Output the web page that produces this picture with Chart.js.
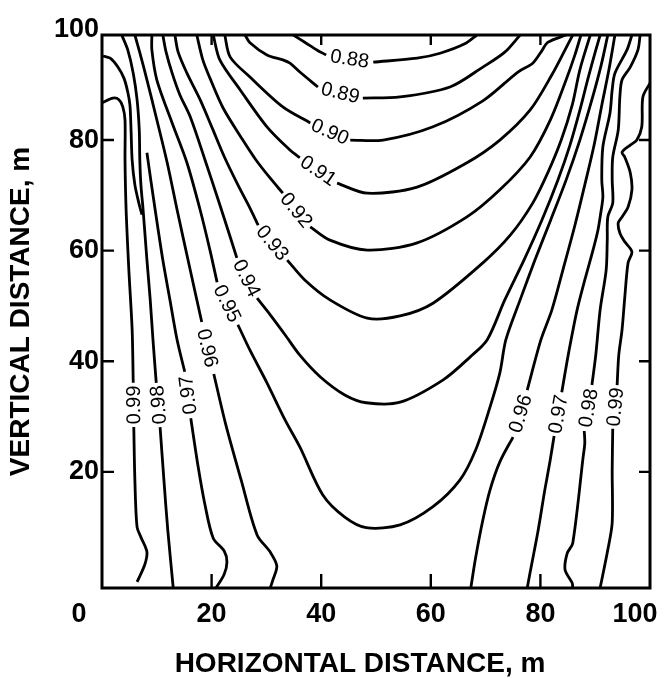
<!DOCTYPE html>
<html>
<head>
<meta charset="utf-8">
<script src="https://cdn.jsdelivr.net/npm/chart.js@4.4.1/dist/chart.umd.min.js"></script>
<style>
  html, body { margin: 0; padding: 0; background: #fff; overflow: hidden; }
  canvas { display: block; }
</style>
</head>
<body>
<canvas id="chart" width="666" height="678"></canvas>
<script>
// Axis ticks (metres)
const xTicks = [0, 20, 40, 60, 80, 100];
const yTicks = [0, 20, 40, 60, 80, 100];
const xTitle = 'HORIZONTAL DISTANCE, m';
const yTitle = 'VERTICAL DISTANCE, m';

// Contour lines as [horizontal m, vertical m]; null marks the break where the level label sits.
const c088 = [[34.9,99.0],[37.0,97.7],[39.2,96.3],[40.9,95.4],null,[49.5,94.1],[57.5,94.8],[61.7,95.7],[66.2,97.4],[68.4,99.0]];
const c089 = [[26.1,99.0],[27.0,97.6],[30.1,95.4],[33.0,94.5],[34.3,93.9],[36.1,92.3],[39.4,89.6],null,[47.6,87.6],[54.4,87.8],[63.5,89.6],[69.5,93.2],[73.5,95.9],[76.3,99.0]];
const c090 = [[22.4,99.0],[23.4,95.0],[27.0,91.4],[33.0,86.0],[38.0,83.1],null,[45.3,80.0],[51.3,80.0],[60.4,82.4],[69.5,87.1],[75.9,92.3],[78.6,93.9],[80.1,95.9],[81.4,97.7],[84.7,99.0]];
const c091 = [[20.3,99.0],[21.5,94.5],[25.2,89.1],[30.1,82.4],[34.3,78.2],[36.1,76.8],null,[42.9,72.2],[48.4,70.4],[57.5,71.5],[66.6,75.9],[72.6,80.0],[78.1,85.4],[82.1,91.8],[84.5,96.3],[85.9,99.0]];
const c092 = [[17.3,99.0],[18.4,94.5],[19.7,91.2],[22.1,85.8],[25.7,80.0],[28.1,76.4],[30.7,73.1],[33.0,70.4],null,[38.0,64.3],[41.6,61.9],[48.4,60.1],[57.5,61.4],[66.6,66.1],[72.6,71.0],[78.1,76.9],[81.8,83.6],[84.7,90.9],[86.3,95.4],[87.4,99.0]];
const c093 = [[13.3,99.0],[13.9,95.9],[15.5,92.1],[17.9,87.3],[20.1,82.2],[22.4,76.8],[24.8,71.9],[27.0,67.7],[28.5,64.6],null,[33.8,58.3],[37.0,54.7],[41.6,51.1],[48.4,47.8],[54.4,48.2],[60.4,50.5],[69.5,57.8],[74.5,62.8],[78.6,68.6],[81.4,74.2],[83.8,80.0],[85.8,86.3],[87.2,92.7],[89.1,99.0]];
const c094 = [[11.1,99.0],[11.7,95.9],[12.8,92.1],[14.2,88.2],[16.1,84.2],[18.8,76.4],[21.2,69.2],[23.0,63.7],[24.6,58.7],null,[28.3,51.4],[30.7,48.4],[33.4,44.8],[36.1,41.1],[39.8,37.2],[44.3,33.9],[48.2,32.5],[54.4,32.6],[62.2,36.6],[67.2,40.8],[70.3,43.9],[73.5,51.1],[77.0,58.3],[80.3,65.6],[83.2,72.8],[85.4,79.1],[87.2,85.4],[88.7,91.2],[90.0,95.9],[90.9,99.0]];
const c095 = [[9.1,99.0],[9.1,96.3],[10.0,90.9],[12.8,83.1],[15.5,75.9],[17.9,67.4],[19.7,60.1],[21.0,54.3],null,[24.8,46.6],[27.0,42.0],[30.1,36.1],[33.4,29.4],[36.1,24.5],[40.3,15.8],[44.3,11.8],[48.2,9.9],[54.4,10.4],[60.4,13.7],[65.3,18.5],[68.2,24.0],[70.8,31.7],[72.6,37.9],[73.7,43.9],[76.3,51.1],[79.0,58.3],[81.9,65.6],[84.7,72.8],[87.2,80.0],[89.4,87.3],[91.1,93.6],[92.3,99.0]];
const c096West = [[6.0,99.0],[6.9,95.8],[8.2,90.9],[9.7,84.9],[11.9,75.9],[13.7,67.4],[16.1,56.5],[18.2,47.1],null,[20.4,37.7],[22.6,28.5],[25.4,18.5],[28.3,8.6],[30.7,5.5],[31.9,3.0],[31.2,0.5],[30.7,-1.0]];
const c096East = [[67.3,-1.0],[68.2,4.6],[69.5,11.3],[70.8,16.7],[72.6,21.8],[75.0,26.3],null,[77.6,34.8],[80.1,43.9],[82.1,49.3],[84.1,56.5],[86.3,64.6],[88.1,71.9],[89.8,79.1],[91.2,86.3],[92.5,92.7],[93.6,99.0]];
const c097West = [[20.8,-1.0],[22.3,1.5],[22.8,3.7],[22.3,5.7],[20.3,8.0],[18.8,14.0],[17.5,21.2],[16.2,29.7],null,[15.1,38.1],[13.7,43.9],[12.4,51.1],[11.1,58.3],[9.7,67.4],[8.9,72.8],[8.2,77.7]];
const c097East = [[77.6,-1.0],[78.1,1.7],[79.6,9.5],[80.8,16.7],[81.8,22.2],[82.5,26.5],null,[83.9,34.4],[84.9,40.2],[85.6,43.9],[86.7,49.3],[88.1,54.7],[89.6,60.1],[90.5,63.7],[90.9,66.1],[91.4,69.7],[91.2,72.8],[91.4,78.8],[92.7,84.9],[93.1,89.1],[93.6,92.1],[95.8,96.3],[96.7,99.0]];
const c098West = [[13.0,-1.0],[12.0,9.5],[11.3,18.5],[10.6,28.1],null,[9.9,36.1],[9.3,43.9],[8.8,51.1],[8.2,58.3],[7.5,67.4],[7.1,71.9],[6.9,76.4],[6.8,81.8],[6.4,87.3],[5.7,92.1],[4.7,96.3],[3.6,99.0]];
const c098East = [[85.9,-1.0],[85.8,-0.1],[84.5,2.3],[84.9,5.3],[85.9,7.1],[87.8,22.7],[88.1,25.2],[88.0,27.4],null,[89.4,35.7],[90.1,41.1],[90.9,49.3],[92.0,56.5],[92.2,61.9],[92.3,66.1],[93.2,68.6],[93.1,72.8],[93.2,76.9],[94.2,81.8],[94.5,87.8],[94.9,90.9],[96.4,93.2],[97.8,96.3],[98.2,99.0]];
const c099West = [[6.4,0.1],[7.8,3.2],[8.2,5.5],[7.1,8.2],[6.4,10.0],[6.0,18.5],[5.8,28.1],null,[5.7,36.1],[5.5,45.7],[4.9,56.5],[4.4,67.4],[4.2,76.4],[4.2,83.6],[3.8,86.0],[3.1,87.3],[2.0,87.6],[0.1,86.8]];
const c099East = [[90.9,-1.0],[92.3,5.9],[93.1,10.8],[93.1,20.3],[93.2,27.8],null,[94.0,35.7],[94.3,41.1],[94.9,45.7],[95.4,51.6],[96.0,57.8],[96.7,59.8],[95.4,61.6],[94.5,63.2],[94.2,65.0],[94.9,66.1],[96.0,67.9],[96.7,71.0],[96.4,74.1],[95.4,76.9],[94.9,77.8],[96.4,79.1],[97.6,80.0],[98.5,82.4],[98.7,87.8],[100.0,90.3]];
const wallSpur = [[0.2,95.2],[1.5,94.8],[2.9,93.2],[4.0,91.2],[4.7,88.7],[5.1,86.3],[5.3,81.8],[5.5,76.4],[6.0,71.9],[6.8,68.3],[7.3,66.5]];

// Level printed in each line's break ('' = unlabelled)
const lineLevels = ['0.88','0.89','0.90','0.91','0.92','0.93','0.94','0.95','0.96','0.96','0.97','0.97','0.98','0.98','0.99','0.99',''];
const lineData = [c088,c089,c090,c091,c092,c093,c094,c095,c096West,c096East,c097West,c097East,c098West,c098East,c099West,c099East,wallSpur];

const FONT = '"Liberation Sans", Arial, Helvetica, sans-serif';
const INK = '#000';
const TICK_LEN = 12;
const xLabelNudge = { 0: -23, 100: -15 };
const X_TITLE_SHIFT = -16;

const datasets = lineData.map((pts, i) => ({
  label: lineLevels[i],
  data: pts.map(p => p ? { x: p[0], y: p[1] } : { x: null, y: null }),
  showLine: true,
  spanGaps: false,
  borderColor: INK,
  borderWidth: 2.8,
  pointRadius: 0,
  pointHoverRadius: 0,
  tension: 0.3,
  fill: false
}));

// Level labels written along each line, inside its break
const levelLabels = {
  id: 'levelLabels',
  afterDatasetsDraw(chart) {
    const { ctx, scales: { x, y } } = chart;
    ctx.save();
    ctx.fillStyle = INK;
    ctx.font = `20px ${FONT}`;
    ctx.textAlign = 'center';
    ctx.textBaseline = 'middle';
    lineData.forEach((pts, i) => {
      const text = lineLevels[i];
      if (!text) return;
      const k = pts.indexOf(null);
      if (k < 1) return;
      const a = pts[k - 1], b = pts[k + 1];
      const ax = x.getPixelForValue(a[0]), ay = y.getPixelForValue(a[1]);
      const bx = x.getPixelForValue(b[0]), by = y.getPixelForValue(b[1]);
      ctx.save();
      ctx.translate((ax + bx) / 2, (ay + by) / 2);
      ctx.rotate(Math.atan2(by - ay, bx - ax));
      ctx.fillText(text, 0, 1);
      ctx.restore();
    });
    ctx.restore();
  }
};

// Box frame, inward tick marks, horizontal tick labels and horizontal axis title
const frameAxes = {
  id: 'frameAxes',
  afterDraw(chart) {
    const { ctx, chartArea: a, scales: { x, y } } = chart;
    ctx.save();
    ctx.strokeStyle = INK;
    ctx.lineWidth = 3;
    ctx.strokeRect(a.left, a.top, a.right - a.left, a.bottom - a.top);
    ctx.lineWidth = 2.4;
    ctx.beginPath();
    xTicks.forEach(v => {
      if (v <= 0 || v >= 100) return;
      const px = x.getPixelForValue(v);
      ctx.moveTo(px, a.bottom); ctx.lineTo(px, a.bottom - TICK_LEN - 2);
      ctx.moveTo(px, a.top); ctx.lineTo(px, a.top + TICK_LEN - 2);
    });
    yTicks.forEach(v => {
      if (v <= 0 || v >= 100) return;
      const py = y.getPixelForValue(v);
      ctx.moveTo(a.left, py); ctx.lineTo(a.left + TICK_LEN, py);
      ctx.moveTo(a.right, py); ctx.lineTo(a.right - TICK_LEN + 1, py);
    });
    ctx.stroke();
    ctx.fillStyle = INK;
    ctx.textAlign = 'center';
    ctx.textBaseline = 'middle';
    ctx.font = `bold 27px ${FONT}`;
    xTicks.forEach(v => {
      ctx.fillText(String(v), x.getPixelForValue(v) + (xLabelNudge[v] || 0), a.bottom + 27);
    });
    ctx.font = `bold 28px ${FONT}`;
    ctx.fillText(xTitle, (a.left + a.right) / 2 + X_TITLE_SHIFT, a.bottom + 76);
    ctx.restore();
  }
};

new Chart(document.getElementById('chart'), {
  type: 'scatter',
  data: { datasets },
  options: {
    responsive: false,
    animation: false,
    events: [],
    layout: { padding: { top: 35, right: 16, bottom: 0, left: 0 } },
    plugins: { legend: { display: false }, tooltip: { enabled: false } },
    scales: {
      x: {
        type: 'linear',
        min: 0, max: 100,
        grid: { display: false, drawTicks: false },
        border: { display: false },
        ticks: { display: false },
        title: { display: false },
        afterFit(scale) { scale.height = 90; }
      },
      y: {
        type: 'linear',
        min: -1, max: 99,
        afterBuildTicks(scale) { scale.ticks = yTicks.map(v => ({ value: v })); },
        grid: { display: false, drawTicks: false },
        border: { display: false },
        ticks: {
          color: INK,
          padding: 3,
          font: { family: FONT, size: 27, weight: 'bold' },
          callback: v => (v === 0 ? '' : String(v))
        },
        title: {
          display: true,
          text: yTitle,
          color: INK,
          font: { family: FONT, size: 28, weight: 'bold' },
          padding: { top: 4, bottom: 0 }
        },
        afterFit(scale) { scale.width = 102; }
      }
    }
  },
  plugins: [levelLabels, frameAxes]
});
</script>
</body>
</html>
